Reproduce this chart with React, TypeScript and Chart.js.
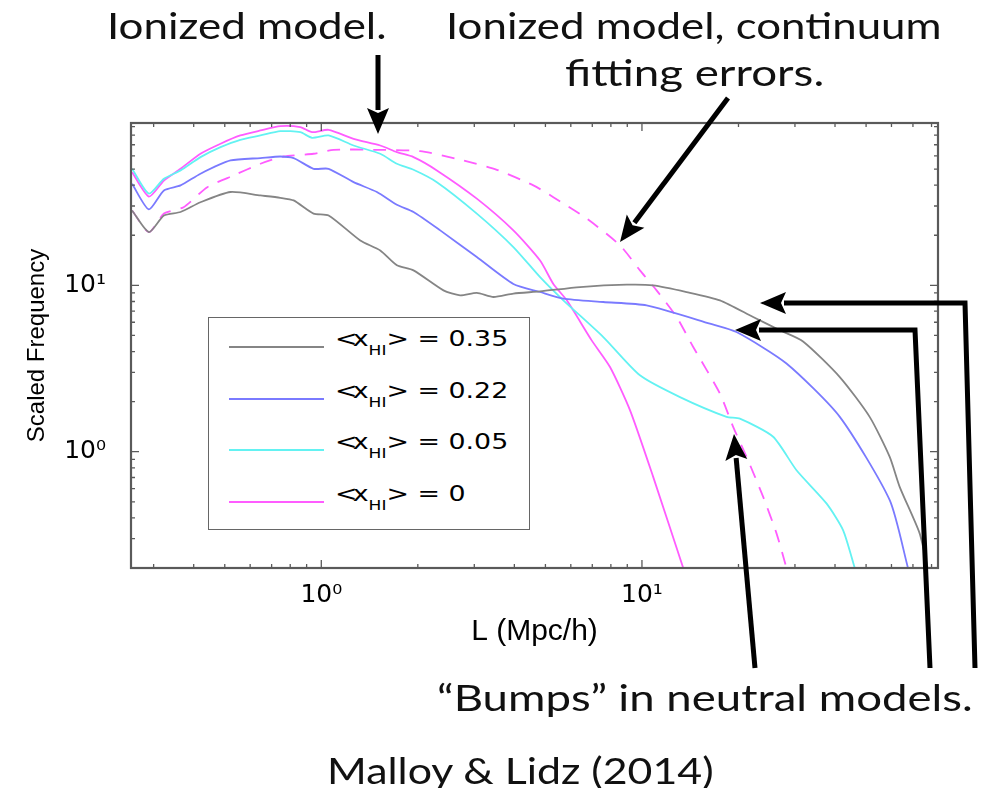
import React, { useEffect, useRef } from "react";
import { Chart, registerables } from "chart.js";

Chart.register(...registerables);

// ---- axis ranges (log) ----
const L_MIN = 0.255;
const L_MAX = 83.8;
const F_MIN = 0.2;
const F_MAX = 94.6;

// ---- tick positions / labels ----
const X_MAJOR = [1, 10];
const Y_MAJOR = [1, 10];
const X_MINOR = [0.3, 0.4, 0.5, 0.6, 0.7, 0.8, 0.9, 2, 3, 4, 5, 6, 7, 8, 9, 20, 30, 40, 50, 60, 70, 80];
const Y_MINOR = [0.2, 0.3, 0.4, 0.5, 0.6, 0.7, 0.8, 0.9, 2, 3, 4, 5, 6, 7, 8, 9, 20, 30, 40, 50, 60, 70, 80, 90];
const TICK_LABELS: Record<number, string> = { 1: "10\u2070", 10: "10\u00b9" };

// ---- series: <x_HI> = 0.35 ----
const L_035 = [0.257, 0.29, 0.323, 0.364, 0.42, 0.521, 0.646, 0.745, 0.82, 0.946, 1.054, 1.323, 1.527, 1.721, 1.939, 2.404, 2.71, 3.055, 3.442, 3.972, 4.812, 6.411, 8.96, 10.84, 13.78, 17.5, 22.22, 26.92, 31.8, 41.4, 51.3, 59.25, 63.64, 73.45, 77.8];
const F_035 = [28.2, 20.9, 26.3, 27.6, 31.6, 36.4, 34.7, 33.6, 32.4, 27.0, 26.3, 18.6, 16.2, 13.2, 12.3, 9.33, 8.71, 9.0, 8.51, 8.92, 9.2, 9.77, 10.1, 10.0, 9.12, 8.13, 6.45, 5.37, 4.6, 2.81, 1.62, 0.931, 0.615, 0.323, 0.2];

// ---- series: <x_HI> = 0.22 ----
const L_022 = [0.257, 0.29, 0.323, 0.364, 0.42, 0.521, 0.646, 0.745, 0.82, 0.946, 1.054, 1.261, 1.491, 1.721, 1.939, 2.349, 3.055, 3.972, 4.812, 5.686, 7.576, 10.34, 16.29, 19.72, 28.23, 41.4, 59.25, 67.55];
const F_022 = [40.8, 28.6, 37.2, 39.9, 46.9, 56.3, 58.2, 59.5, 58.2, 50.2, 50.2, 41.7, 36.4, 30.5, 27.6, 21.4, 14.8, 10.2, 9.12, 8.32, 7.94, 7.58, 5.89, 5.24, 3.39, 1.62, 0.511, 0.2];

// ---- series: <x_HI> = 0.05 ----
const L_005 = [0.257, 0.29, 0.323, 0.364, 0.42, 0.485, 0.559, 0.646, 0.745, 0.86, 0.936, 1.054, 1.261, 1.527, 1.721, 1.939, 2.293, 3.055, 3.972, 4.812, 5.686, 7.576, 9.857, 13.14, 18.36, 20.2, 25.65, 30.34, 37.62, 42.38, 46.09];
const F_005 = [50.2, 35.6, 43.7, 49.1, 59.0, 67.7, 75.0, 79.6, 84.5, 83.3, 77.1, 79.6, 69.3, 61.8, 53.8, 49.5, 41.7, 27.0, 17.0, 11.2, 8.13, 4.89, 2.88, 2.13, 1.62, 1.58, 1.23, 0.774, 0.489, 0.338, 0.2];

// ---- series: <x_HI> = 0 ----
const L_000 = [0.257, 0.29, 0.323, 0.364, 0.42, 0.485, 0.559, 0.646, 0.745, 0.86, 0.936, 1.054, 1.261, 1.527, 1.721, 1.939, 2.293, 3.055, 3.972, 4.812, 5.292, 5.83, 6.97, 7.95, 9.175, 10.84, 13.45];
const F_000 = [47.9, 34.2, 42.7, 50.2, 61.8, 71.0, 79.6, 85.3, 90.5, 89.3, 83.3, 86.1, 76.0, 69.3, 63.2, 59.0, 49.1, 33.2, 21.4, 14.1, 10.2, 8.13, 4.67, 3.23, 1.78, 0.706, 0.2];

// ---- ionized model with continuum fitting errors (dashed) ----
const L_FIT = [0.257, 0.29, 0.323, 0.372, 0.441, 0.533, 0.646, 0.763, 0.946, 1.092, 1.455, 2.034, 2.71, 3.527, 4.585, 5.292, 6.725, 8.541, 9.857, 11.11, 12.83, 14.45, 17.5, 19.25, 21.2, 23.88, 26.28, 28.23];
const F_FIT = [28.2, 20.9, 27.0, 29.5, 38.9, 45.8, 53.8, 59.5, 61.8, 65.3, 65.3, 64.1, 56.9, 49.5, 39.9, 33.9, 25.2, 17.4, 12.3, 9.33, 6.45, 4.26, 2.24, 1.41, 0.931, 0.535, 0.323, 0.2];

const SERIES_LABELS = ["0.35", "0.22", "0.05", "0"];
const COLORS = ["#858585", "#7a7aff", "#63f2f2", "#ff5cff"];

const zip = (xs: number[], ys: number[]) => xs.map((x, i) => ({ x, y: ys[i] }));

const frameTicks = {
  id: "frameTicks",
  afterDatasetsDraw(chart: any) {
    const { ctx, chartArea: a, scales } = chart;
    const xs = scales.x;
    const ys = scales.y;
    ctx.save();
    ctx.strokeStyle = "#5a5a5a";
    ctx.lineWidth = 1.3;
    ctx.beginPath();
    const xt = (v: number, len: number) => {
      const p = xs.getPixelForValue(v);
      ctx.moveTo(p, a.bottom);
      ctx.lineTo(p, a.bottom - len);
      ctx.moveTo(p, a.top);
      ctx.lineTo(p, a.top + len);
    };
    const yt = (v: number, len: number) => {
      const p = ys.getPixelForValue(v);
      ctx.moveTo(a.left, p);
      ctx.lineTo(a.left + len, p);
      ctx.moveTo(a.right, p);
      ctx.lineTo(a.right - len, p);
    };
    X_MINOR.forEach((v) => xt(v, 4));
    X_MAJOR.forEach((v) => xt(v, 8));
    Y_MINOR.forEach((v) => yt(v, 4));
    Y_MAJOR.forEach((v) => yt(v, 8));
    ctx.stroke();
    ctx.lineWidth = 2.2;
    ctx.strokeRect(a.left, a.top, a.right - a.left, a.bottom - a.top);
    ctx.restore();
  },
};

type Pt = [number, number];
function Arrow({ pts }: { pts: Pt[] }) {
  const head = 26;
  const half = 11;
  const tip = pts[pts.length - 1];
  const prev = pts[pts.length - 2];
  const dx = tip[0] - prev[0];
  const dy = tip[1] - prev[1];
  const len = Math.hypot(dx, dy);
  const ux = dx / len;
  const uy = dy / len;
  const bx = tip[0] - ux * head;
  const by = tip[1] - uy * head;
  const linePts = [...pts.slice(0, -1), [bx + ux * 2, by + uy * 2] as Pt];
  const poly = [
    [tip[0], tip[1]],
    [bx - uy * half, by + ux * half],
    [bx + ux * 5, by + uy * 5],
    [bx + uy * half, by - ux * half],
  ];
  return (
    <g>
      <polyline
        points={linePts.map((p) => p.join(",")).join(" ")}
        fill="none"
        stroke="#000"
        strokeWidth={5}
        strokeLinejoin="miter"
      />
      <polygon points={poly.map((p) => p.join(",")).join(" ")} fill="#000" />
    </g>
  );
}

const anno = (left: number, top: number, sx: number): React.CSSProperties => ({
  position: "absolute",
  left,
  top,
  fontFamily: "Lato, 'Open Sans', sans-serif",
  fontSize: 36,
  lineHeight: 1,
  color: "#111",
  whiteSpace: "nowrap",
  transformOrigin: "0 0",
  transform: `scaleX(${sx})`,
});

export default function App() {
  const canvasRef = useRef<HTMLCanvasElement | null>(null);

  useEffect(() => {
    document.body.style.margin = "0";
    const canvas = canvasRef.current;
    if (!canvas) return;
    const sets = [
      zip(L_035, F_035),
      zip(L_022, F_022),
      zip(L_005, F_005),
      zip(L_000, F_000),
    ];
    const datasets: any[] = sets.map((d, i) => ({
      label: SERIES_LABELS[i],
      data: d,
      borderColor: COLORS[i],
      borderWidth: 1.8,
      pointRadius: 0,
      tension: 0.22,
    }));
    datasets.push({
      label: "fit errors",
      data: zip(L_FIT, F_FIT),
      borderColor: COLORS[3],
      borderWidth: 1.8,
      borderDash: [13, 10],
      pointRadius: 0,
      tension: 0.22,
    });

    const tickFont = { family: "'DejaVu Sans', sans-serif", size: 25 };
    const chart = new Chart(canvas, {
      type: "line",
      data: { datasets },
      options: {
        animation: false,
        responsive: false,
        maintainAspectRatio: false,
        layout: { padding: { left: 0, top: 123, right: 48, bottom: 0 } },
        plugins: { legend: { display: false }, tooltip: { enabled: false } },
        scales: {
          x: {
            type: "logarithmic",
            min: L_MIN,
            max: L_MAX,
            grid: { display: false, drawTicks: false },
            border: { display: false },
            afterBuildTicks: (s: any) => {
              s.ticks = X_MAJOR.map((v) => ({ value: v }));
            },
            afterFit: (s: any) => {
              s.height = 220;
            },
            ticks: {
              callback: (v: any) => TICK_LABELS[Number(v)] ?? "",
              font: tickFont,
              color: "#000",
              padding: 12,
              maxRotation: 0,
              autoSkip: false,
            },
            title: {
              display: true,
              text: "L (Mpc/h)",
              font: { family: "'Liberation Sans', Arial, sans-serif", size: 30 },
              color: "#000",
              padding: { top: 0, bottom: 138 },
            },
          },
          y: {
            type: "logarithmic",
            min: F_MIN,
            max: F_MAX,
            grid: { display: false, drawTicks: false },
            border: { display: false },
            afterBuildTicks: (s: any) => {
              s.ticks = Y_MAJOR.map((v) => ({ value: v }));
            },
            afterFit: (s: any) => {
              s.width = 131;
            },
            ticks: {
              callback: (v: any) => TICK_LABELS[Number(v)] ?? "",
              font: tickFont,
              color: "#000",
              padding: 25,
              autoSkip: false,
            },
            title: {
              display: true,
              text: "Scaled Frequency",
              font: { family: "'Liberation Sans', Arial, sans-serif", size: 24 },
              color: "#000",
              padding: { top: 23, bottom: 0 },
            },
          },
        },
      } as any,
      plugins: [frameTicks],
    });
    return () => chart.destroy();
  }, []);

  const legendRows = SERIES_LABELS.map((lab, i) => ({ lab, color: COLORS[i], base: 347 + i * 51.5 }));

  return (
    <div style={{ position: "absolute", left: 0, top: 0, width: 986, height: 788, background: "#fff", overflow: "hidden" }}>
      <canvas ref={canvasRef} width={986} height={788} style={{ position: "absolute", left: 0, top: 0 }} />

      {/* legend */}
      <div
        style={{
          position: "absolute",
          left: 208,
          top: 317,
          width: 322,
          height: 213,
          boxSizing: "border-box",
          border: "1.6px solid #666",
          background: "#fff",
        }}
      />
      {legendRows.map((r) => (
        <React.Fragment key={r.lab}>
          <div style={{ position: "absolute", left: 229, top: r.base - 1, width: 95, height: 2, background: r.color }} />
          <div
            style={{
              position: "absolute",
              left: 335,
              top: r.base - 18.6,
              fontFamily: "'DejaVu Sans', sans-serif",
              fontSize: 22,
              lineHeight: 1,
              color: "#000",
              whiteSpace: "nowrap",
              transformOrigin: "0 0",
              transform: "scaleX(1.22)",
            }}
          >
            <span style={{ letterSpacing: "-0.18em" }}>&lt;</span>x
            <span style={{ fontSize: 14, position: "relative", top: 9 }}>HI</span>
            &gt; = {r.lab}
          </div>
        </React.Fragment>
      ))}

      {/* arrows */}
      <svg width={986} height={788} style={{ position: "absolute", left: 0, top: 0 }}>
        <Arrow pts={[[378, 55], [378, 134]]} />
        <Arrow pts={[[728, 98], [620, 242]]} />
        <Arrow pts={[[975, 668], [965, 303], [760, 303]]} />
        <Arrow pts={[[930, 668], [915, 330], [735, 330]]} />
        <Arrow pts={[[755, 668], [734, 434]]} />
      </svg>

      {/* annotation text */}
      <div style={anno(107, 7, 1.22)}>Ionized model.</div>
      <div style={anno(446, 7, 1.217)}>Ionized model, continuum</div>
      <div style={anno(565, 54, 1.27)}>fitting errors.</div>
      <div style={anno(437, 679, 1.265)}>“Bumps” in neutral models.</div>
      <div style={anno(327, 752, 1.19)}>Malloy &amp; Lidz (2014)</div>
    </div>
  );
}
